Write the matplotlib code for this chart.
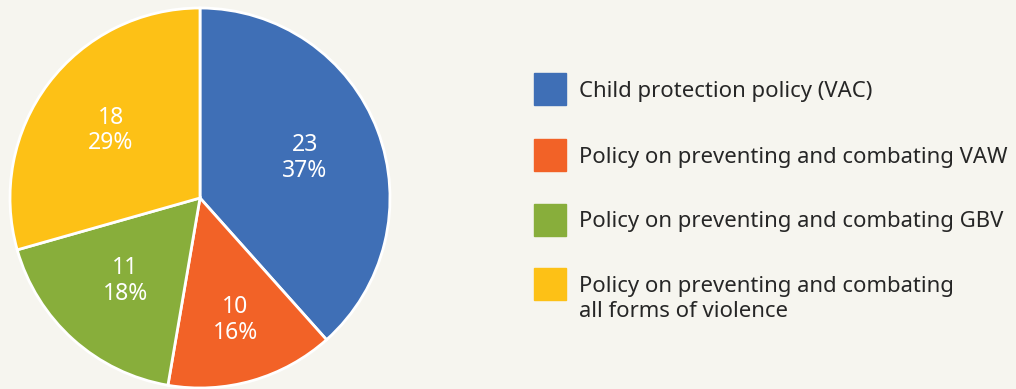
import matplotlib.pyplot as plt
import numpy as np

categories = ["Child protection policy (VAC)",
              "Policy on preventing and combating VAW",
              "Policy on preventing and combating GBV",
              "Policy on preventing and combating\nall forms of violence"]
counts = [23, 10, 11, 18]
percents = [37, 16, 18, 29]
# slice sizes as drawn in the picture (share of the circle, %)
shares = [38.4, 14.3, 17.9, 29.4]
colours = ["#3f6fb6", "#f26227", "#88ae3b", "#fdc116"]

bg = "#f6f5ef"
plt.rcParams["font.family"] = ["Noto Sans", "DejaVu Sans"]

fig = plt.figure(figsize=(10.16, 3.89), dpi=100, facecolor=bg)
ax = fig.add_axes([10 / 1016, 1 / 389, 380 / 1016, 380 / 389])
ax.set_facecolor(bg)

wedges = ax.pie(shares, colors=colours, startangle=90, counterclock=False,
                radius=1, wedgeprops=dict(edgecolor="white", linewidth=2))[0]
for w, n, p in zip(wedges, counts, percents):
    mid = np.deg2rad((w.theta1 + w.theta2) / 2)
    d = 0.67 if n == 10 else 0.59
    ax.text(d * np.cos(mid), d * np.sin(mid), "%d\n%d%%" % (n, p),
            ha="center", va="center", color="white", fontsize=16.5, linespacing=1.1)
ax.set_xlim(-1, 1)
ax.set_ylim(-1, 1)
ax.set_aspect("equal")

# legend drawn by hand
rows_y = [89, 155, 220, 297]
H = 389
for lab, col, y in zip(categories, colours, rows_y):
    sq_y = y if "\n" not in lab else y - 13
    fig.patches.append(plt.Rectangle((534 / 1016, (H - sq_y - 16) / H), 32 / 1016, 32 / H,
                                     transform=fig.transFigure, color=col))
    fig.text(579 / 1016, (H - y - 2) / H, lab, fontsize=15.9, color="#262626",
             va="center", linespacing=1.3)

fig.savefig("out.png", dpi=100, facecolor=bg)
